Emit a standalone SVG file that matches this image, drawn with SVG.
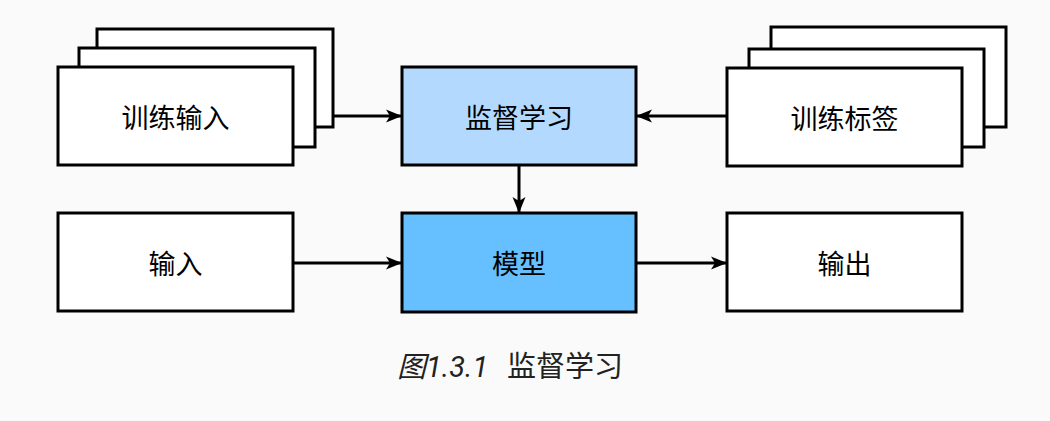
<svg xmlns="http://www.w3.org/2000/svg" width="1050" height="421" viewBox="0 0 1050 421">
<style>
.box{stroke:#000;stroke-width:3;}
.w{fill:#fff;}
.lbl{font-family:"Noto Sans CJK SC",sans-serif;font-size:27px;fill:#000;text-anchor:middle;dominant-baseline:central;}
.con{stroke:#000;stroke-width:3;fill:none;}
.cap{font-family:Roboto,"Noto Sans CJK SC",sans-serif;font-size:29px;fill:#222;}
</style>
<defs>
<marker id="ah" markerWidth="18" markerHeight="14" refX="15" refY="7" orient="auto" markerUnits="userSpaceOnUse">
<path d="M0,0.5 L16,7 L0,13.5 L4,7 Z" fill="#000"/>
</marker>
</defs>
<rect width="1050" height="421" fill="#fafafa"/>
<g id="train-input">
<rect class="box w" x="97" y="29" width="236" height="98"/>
<rect class="box w" x="79" y="48" width="236" height="99"/>
<rect class="box w" x="58" y="67" width="235" height="98"/>
<text class="lbl" x="175.5" y="116">训练输入</text>
</g>
<g id="supervised">
<rect class="box" x="402" y="67" width="234" height="98" fill="#b3d9ff"/>
<text class="lbl" x="519" y="116">监督学习</text>
</g>
<g id="train-label">
<rect class="box w" x="771" y="27" width="235" height="100"/>
<rect class="box w" x="749" y="49" width="235" height="98"/>
<rect class="box w" x="727" y="68" width="235" height="98"/>
<text class="lbl" x="844.5" y="117">训练标签</text>
</g>
<g id="input">
<rect class="box w" x="58" y="213" width="235" height="98"/>
<text class="lbl" x="175.5" y="262">输入</text>
</g>
<g id="model">
<rect class="box" x="402" y="213" width="234" height="99" fill="#66bfff"/>
<text class="lbl" x="519" y="262">模型</text>
</g>
<g id="output">
<rect class="box w" x="727" y="213" width="235" height="98"/>
<text class="lbl" x="844.5" y="262">输出</text>
</g>
<g id="connectors">
<line class="con" x1="333" y1="116" x2="401" y2="116" marker-end="url(#ah)"/>
<line class="con" x1="727" y1="116" x2="637" y2="116" marker-end="url(#ah)"/>
<line class="con" x1="519" y1="165" x2="519" y2="212" marker-end="url(#ah)"/>
<line class="con" x1="293" y1="263" x2="401" y2="263" marker-end="url(#ah)"/>
<line class="con" x1="636" y1="263" x2="726" y2="263" marker-end="url(#ah)"/>
</g>
<text class="cap" x="397" y="377" font-style="italic">图1.3.1</text>
<text class="cap" x="507" y="377">监督学习</text>
</svg>
